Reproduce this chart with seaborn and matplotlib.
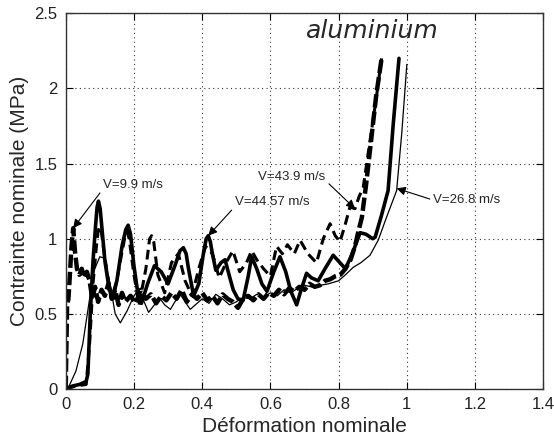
import numpy as np
import pandas as pd
import matplotlib
matplotlib.use("Agg")
import matplotlib.pyplot as plt
import seaborn as sns

# ---------------- data ----------------
# V = 9.9 m/s  (thick dashed)
v99_x = [0.0, 0.004, 0.008, 0.012, 0.017, 0.022, 0.027, 0.033, 0.04, 0.047, 0.055, 0.062, 0.07,
         0.078, 0.086, 0.095, 0.105, 0.115, 0.125, 0.135, 0.145, 0.155, 0.165, 0.175, 0.19,
         0.205, 0.22, 0.235, 0.25, 0.265, 0.28, 0.295, 0.31, 0.325, 0.34, 0.355, 0.37, 0.385,
         0.4, 0.415, 0.43, 0.445, 0.46, 0.475, 0.49, 0.505, 0.52, 0.535, 0.55, 0.565, 0.58,
         0.595, 0.61, 0.625, 0.64, 0.655, 0.67, 0.685, 0.7, 0.715, 0.73, 0.745, 0.76, 0.775,
         0.79, 0.805, 0.82, 0.835, 0.848, 0.858, 0.868, 0.88, 0.895, 0.91, 0.926]
v99_y = [0.0, 0.55, 0.6, 0.75, 0.95, 1.07, 0.92, 0.8, 0.76, 0.8, 0.74, 0.78, 0.72,
         0.6, 0.68, 0.58, 0.66, 0.62, 0.7, 0.6, 0.66, 0.56, 0.64, 0.58, 0.62,
         0.57, 0.66, 0.6, 0.63, 0.57, 0.62, 0.59, 0.64, 0.6, 0.66, 0.58, 0.63, 0.6,
         0.64, 0.59, 0.62, 0.57, 0.63, 0.6, 0.58, 0.54, 0.6, 0.62, 0.59, 0.63, 0.6,
         0.64, 0.62, 0.66, 0.63, 0.67, 0.65, 0.68, 0.66, 0.7, 0.68, 0.69, 0.72, 0.73,
         0.75, 0.76, 0.8, 0.86, 0.95, 1.05, 1.14, 1.35, 1.65, 1.95, 2.2]

# V = 43.9 m/s  (dashed)
v439_x = [0.0, 0.03, 0.06, 0.07, 0.08, 0.09, 0.095, 0.1, 0.105, 0.11, 0.125, 0.14, 0.16,
          0.175, 0.18, 0.186, 0.2, 0.215, 0.235, 0.246, 0.252, 0.258, 0.27, 0.29, 0.31,
          0.33, 0.35, 0.37, 0.39, 0.41, 0.43, 0.45, 0.47, 0.49, 0.51, 0.53, 0.545, 0.56,
          0.58, 0.6, 0.618, 0.635, 0.65, 0.67, 0.687, 0.71, 0.735, 0.755, 0.775, 0.79,
          0.804, 0.82, 0.833, 0.848, 0.86, 0.872, 0.89, 0.91, 0.926]
v439_y = [0.0, 0.02, 0.03, 0.3, 0.7, 0.95, 1.05, 1.08, 1.04, 0.95, 0.72, 0.6, 0.85,
          1.03, 1.05, 1.0, 0.76, 0.56, 0.8, 1.0, 1.02, 0.98, 0.76, 0.64, 0.84,
          0.9, 0.72, 0.62, 0.8, 0.95, 0.9, 0.74, 0.84, 0.92, 0.78, 0.84, 0.92, 0.86,
          0.8, 0.75, 0.95, 0.9, 0.96, 0.9, 0.99, 0.9, 0.84, 1.0, 1.1, 1.02,
          0.98, 1.1, 1.21, 1.2, 1.28, 1.34, 1.62, 1.93, 2.2]

# V = 44.57 m/s  (thick solid)
v4457_x = [0.0, 0.02, 0.04, 0.06, 0.065, 0.072, 0.08, 0.088, 0.092, 0.096, 0.101, 0.105,
           0.115, 0.125, 0.135, 0.15, 0.165, 0.176, 0.183, 0.19, 0.2, 0.21, 0.222, 0.24,
           0.26, 0.28, 0.3, 0.32, 0.335, 0.345, 0.353, 0.36, 0.375, 0.39, 0.405, 0.412,
           0.418, 0.424, 0.43, 0.44, 0.455, 0.467, 0.48, 0.491, 0.505, 0.52, 0.535, 0.545,
           0.56, 0.575, 0.59, 0.61, 0.628, 0.645, 0.66, 0.677, 0.69, 0.706, 0.72, 0.74,
           0.76, 0.784, 0.8, 0.82, 0.84, 0.863, 0.88, 0.9, 0.907, 0.925, 0.945, 0.96, 0.977]
v4457_y = [0.0, 0.02, 0.03, 0.05, 0.1, 0.5, 0.85, 1.1, 1.21, 1.25, 1.2, 1.1,
           0.85, 0.7, 0.6, 0.72, 0.95, 1.06, 1.09, 1.03, 0.82, 0.66, 0.57, 0.7,
           0.82, 0.78, 0.7, 0.82, 0.92, 0.94, 0.9, 0.8, 0.62, 0.7, 0.92, 1.0,
           1.02, 0.98, 0.9, 0.79, 0.84, 0.86, 0.75, 0.66, 0.6, 0.59, 0.75, 0.88,
           0.8, 0.7, 0.65, 0.78, 0.88, 0.78, 0.65, 0.56, 0.66, 0.77, 0.74, 0.72,
           0.8, 0.89, 0.85, 0.8, 0.9, 1.04, 1.03, 1.0, 1.01, 1.15, 1.32, 1.76, 2.2]

# V = 26.8 m/s  (thin solid)
v268_x = [0.0, 0.01, 0.03, 0.05, 0.07, 0.085, 0.1, 0.115, 0.13, 0.145, 0.16, 0.18, 0.2,
          0.214, 0.23, 0.243, 0.26, 0.277, 0.29, 0.307, 0.32, 0.336, 0.35, 0.365, 0.38,
          0.4, 0.42, 0.44, 0.46, 0.48, 0.5, 0.52, 0.54, 0.56, 0.58, 0.6, 0.62, 0.64, 0.66,
          0.68, 0.7, 0.72, 0.745, 0.77, 0.8, 0.82, 0.843, 0.865, 0.892, 0.916, 0.94, 0.97,
          0.985, 1.0]
v268_y = [0.0, 0.02, 0.12, 0.3, 0.6, 0.8, 0.88, 0.87, 0.7, 0.5, 0.44, 0.52, 0.62,
          0.66, 0.58, 0.51, 0.56, 0.6, 0.56, 0.53, 0.58, 0.63, 0.58, 0.53, 0.56,
          0.6, 0.57, 0.63, 0.6, 0.56, 0.58, 0.61, 0.6, 0.63, 0.61, 0.64, 0.62, 0.66, 0.64,
          0.67, 0.69, 0.68, 0.69, 0.7, 0.72, 0.76, 0.81, 0.84, 0.89, 0.99, 1.14, 1.32,
          1.7, 2.16]

labels = ["V=9.9 m/s", "V=44.57 m/s", "V=43.9 m/s", "V=26.8 m/s"]
x_ticks = [0, 0.2, 0.4, 0.6, 0.8, 1, 1.2, 1.4]
x_tick_labels = ["0", "0.2", "0.4", "0.6", "0.8", "1", "1.2", "1.4"]
y_ticks = [0, 0.5, 1, 1.5, 2, 2.5]
y_tick_labels = ["0", "0.5", "1", "1.5", "2", "2.5"]

# ---------------- figure ----------------
sns.set_theme(style="white")
plt.rcParams["font.family"] = ["Liberation Sans", "DejaVu Sans"]

fig = plt.figure(figsize=(5.54, 4.40), dpi=100)
ax = fig.add_axes([0.1186, 0.1159, 0.8621, 0.8539])

curves = [
    (v99_x, v99_y, 3.2, (3.0, 0.9)),
    (v439_x, v439_y, 2.2, (3.2, 1.8)),
    (v4457_x, v4457_y, 2.6, None),
    (v268_x, v268_y, 0.9, None),
]
for xs, ys, lw, dash in curves:
    df = pd.DataFrame({"x": xs, "y": ys})
    sns.lineplot(data=df, x="x", y="y", ax=ax, color="black", linewidth=lw,
                 estimator=None, sort=False, legend=False)
    ax.lines[-1].set_solid_joinstyle("round")
    if dash is not None:
        ax.lines[-1].set_dashes(dash)

ax.set_xlim(0, 1.4)
ax.set_ylim(0, 2.5)
ax.set_xticks(x_ticks)
ax.set_xticklabels(x_tick_labels)
ax.set_yticks(y_ticks)
ax.set_yticklabels(y_tick_labels)
ax.grid(True, linestyle=(0, (1, 3)), color="#333333", linewidth=0.8)
ax.tick_params(direction="in", length=5, width=0.8, top=True, right=True,
               bottom=True, left=True, labelsize=12, colors="black",
               labelcolor="#222222", pad=6)
for s in ax.spines.values():
    s.set_color("#333333")
    s.set_linewidth(1.0)

ax.set_xlabel("Déformation nominale", fontsize=15, labelpad=3)
ax.set_ylabel("Contrainte nominale (MPa)", fontsize=15, labelpad=4)

ax.text(0.705, 2.38, "aluminium", fontsize=18, style="italic",
        family=["DejaVu Sans"], ha="left", va="center")

arrow = dict(arrowstyle="-|>", color="black", lw=0.8, mutation_scale=13,
             shrinkA=0, shrinkB=0)
ann_fs = 9.5
ax.annotate(labels[0], xy=(0.022, 1.07), xytext=(0.11, 1.357), fontsize=ann_fs,
            ha="left", va="center", arrowprops=dict(arrow, relpos=(0, 0.2)))
ax.annotate(labels[1], xy=(0.418, 1.02), xytext=(0.496, 1.246), fontsize=ann_fs,
            ha="left", va="center", arrowprops=dict(arrow, relpos=(0, 0.1)))
ax.annotate(labels[2], xy=(0.848, 1.20), xytext=(0.565, 1.41), fontsize=ann_fs,
            ha="left", va="center", arrowprops=dict(arrow, relpos=(1, 0.2)))
ax.annotate(labels[3], xy=(0.97, 1.335), xytext=(1.077, 1.257), fontsize=ann_fs,
            ha="left", va="center", arrowprops=dict(arrow, relpos=(0, 0.5)))

fig.savefig("out.png", dpi=100)
